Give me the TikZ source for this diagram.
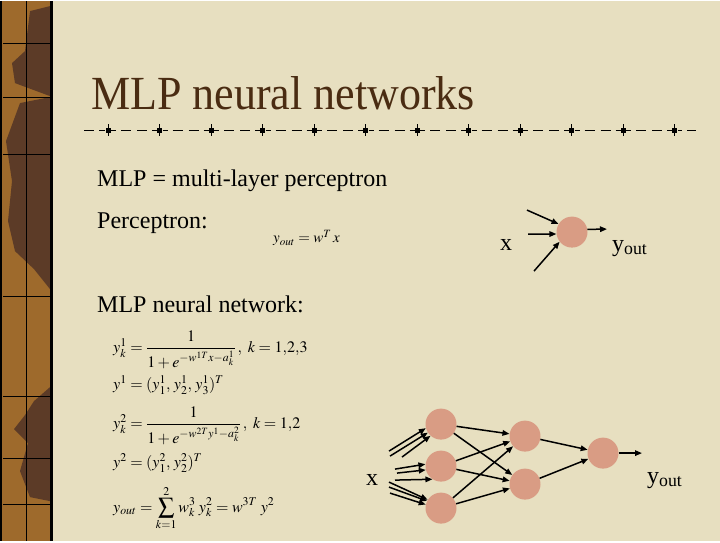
\documentclass[tikz,border=0pt]{standalone}
\usepackage{amsmath}
\usepackage{mathptmx}
\usepackage{fontspec}
\setmainfont{Liberation Serif}
\usetikzlibrary{arrows.meta,positioning}

\definecolor{parchment}{HTML}{E7DFC0}
\definecolor{strip}{HTML}{9E6A2C}
\definecolor{stripdark}{HTML}{5C3B27}
\definecolor{titlebrown}{HTML}{4A2C12}
\definecolor{neuronfill}{HTML}{D99C84}

\begin{document}
\begin{tikzpicture}[x=1pt, y=-1pt,
    neuron/.style={circle, fill=neuronfill, minimum size=31pt, inner sep=0pt},
    arr/.style={-{Triangle[length=7pt,width=5.5pt]}, line width=1.5pt},
    lbl/.style={anchor=base west, inner sep=0pt, font=\fontsize{24}{28}\selectfont},
    eqn/.style={anchor=west, inner sep=0pt, font=\fontsize{16}{19}\selectfont}
  ]
    % slide background and left strip
    \fill[parchment] (0,0) rectangle (720,540);
    \fill[strip] (0,0) rectangle (51,540);
    \fill[stripdark] (30,10) -- (50,5) -- (50,95) -- (15,82) -- (12,62) -- (25,50) -- cycle;
    \fill[stripdark] (6,140) -- (20,102) -- (50,96) -- (50,288) -- (34,268) -- (15,250) -- (8,220) -- (12,180) -- cycle;
    \fill[stripdark] (34,400) -- (50,386) -- (50,500) -- (30,496) -- (20,470) -- (28,442) -- (14,428) -- (25,414) -- cycle;
    \draw[line width=0.8pt] (26,0) -- (26,540);
    \foreach \y in {42,96,153,295,395,457,503}
      \draw[line width=0.8pt] (3,\y) -- (50,\y);
    \draw[line width=1.2pt] (1,0) -- (1,540);
    \draw[line width=2.2pt] (51.5,0) -- (51.5,540);

    % title and rule
    \node[anchor=base west, inner sep=0pt, text=titlebrown, yscale=1.08, font=\fontsize{44}{50}\selectfont] (title) at (91,108) {MLP neural networks};
    \draw[line width=1pt] (84,129) -- (94,129) (99,129) -- (105,129);
    \foreach \i in {0,...,11} {
      \fill ({108+51.5*\i-2.5},126.5) rectangle +(5,5);
      \draw[line width=0.5pt] ({108+51.5*\i},123) -- +(0,12);
    }
    \foreach \i in {0,...,10}
      \draw[line width=1pt] ({111+51.5*\i},129) -- +(5,0) ({121+51.5*\i},129) -- +(10,0)
        ({137+51.5*\i},129) -- +(10,0) ({152+51.5*\i},129) -- +(5,0);
    \draw[line width=1pt] (678,129) -- (682,129) (687,129) -- (696,129);

    % text
    \node[lbl] (def) at (97,185) {MLP = multi-layer perceptron};
    \node[lbl] (perc) at (97,227) {Perceptron:};
    \node[anchor=west, inner sep=0pt, font=\fontsize{15}{18}\selectfont] (yeq) at (273,237) {$y_{out} = w^T\, x$};
    \node[lbl] (mlp) at (97,311) {MLP neural network:};

    % equations
    \node[eqn] (eq1) at (113,349) {$y^1_k = \dfrac{1}{1+e^{-w^{1T}x-a^1_k}}\,,\ k=1{,}2{,}3$};
    \node[eqn] (eq2) at (113,384) {$y^1 = (y^1_1,\, y^1_2,\, y^1_3)^T$};
    \node[eqn] (eq3) at (113,425) {$y^2_k = \dfrac{1}{1+e^{-w^{2T}y^1-a^2_k}}\,,\ k=1{,}2$};
    \node[eqn] (eq4) at (113,462) {$y^2 = (y^2_1,\, y^2_2)^T$};
    \node[eqn] (eq5) at (113,507) {$y_{out} = \displaystyle\sum_{k=1}^{2} w^3_k\; y^2_k = w^{3T}\; y^2$};

    % perceptron
    \node[neuron] (p) at (572,231) {};
    \coordinate (pin1) at (527,209);
    \coordinate (pin2) at (528,233);
    \coordinate (pin3) at (534,270);
    \coordinate (pout) at (607,228);
    \draw[arr] (pin1) -- (p.149);
    \draw[arr] (pin2) -- (p.187);
    \draw[arr] (pin3) -- (p.218);
    \draw[arr] (p.10) -- (pout);
    \node[lbl] (px) at (500,249) {x};
    \node[lbl] (py) at (612,250) {y\textsubscript{out}};

    % network
    \node[neuron] (h1a) at (441,423) {};
    \node[neuron] (h1b) at (441,465) {};
    \node[neuron] (h1c) at (441,507) {};
    \node[neuron] (h2a) at (525,435) {};
    \node[neuron] (h2b) at (525,483) {};
    \node[neuron] (o) at (603,452) {};
    \coordinate (ia1) at (389,450);
    \coordinate (ia2) at (390,455);
    \coordinate (ia3) at (402,456);
    \coordinate (ib1) at (395,468);
    \coordinate (ib2) at (397,472);
    \coordinate (ib3) at (395,479);
    \coordinate (ic1) at (389,481);
    \coordinate (ic2) at (389,486);
    \coordinate (ic3) at (390,492);
    \coordinate (nout) at (642,452);
    \draw[arr] (ia1) -- (h1a.195);
    \draw[arr] (ia2) -- (h1a.213);
    \draw[arr] (ia3) -- (h1a.228);
    \draw[arr] (ib1) -- (h1b.173);
    \draw[arr] (ib2) -- (h1b.194);
    \draw[arr] (ib3) -- (h1b.237);
    \draw[arr] (ic1) -- (h1c.148);
    \draw[arr] (ic2) -- (h1c.153);
    \draw[arr] (ic3) -- (h1c.167);
    \foreach \a in {h1a,h1b,h1c}
      \foreach \b in {h2a,h2b}
        \draw[arr] (\a) -- (\b);
    \draw[arr] (h2a) -- (o);
    \draw[arr] (h2b) -- (o);
    \draw[arr] (o) -- (nout);
    \node[lbl] (nx) at (366,484) {x};
    \node[lbl] (ny) at (647,482) {y\textsubscript{out}};
\end{tikzpicture}
\end{document}
